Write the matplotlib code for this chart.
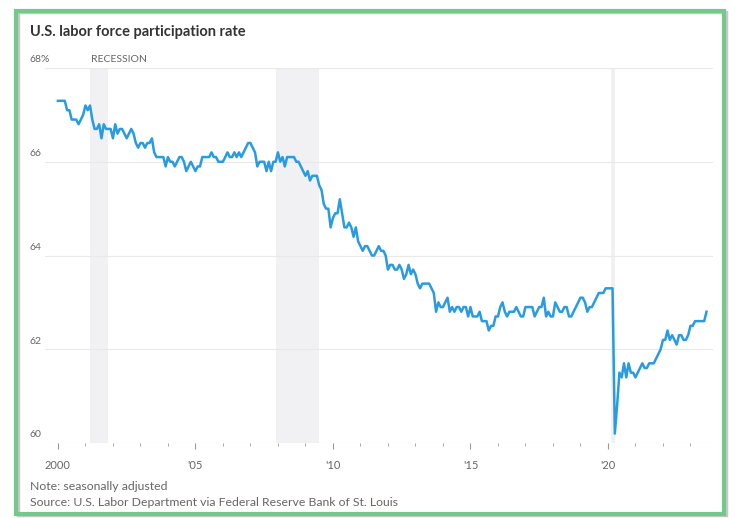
import numpy as np
import matplotlib
matplotlib.use("Agg")
import matplotlib.pyplot as plt
import matplotlib.transforms as mtransforms
from matplotlib.patches import Rectangle

# monthly participation rate, Jan 2000 .. Aug 2023
rate_2000 = [67.3, 67.3, 67.3, 67.3, 67.1, 67.1, 66.9, 66.9, 66.9, 66.8, 66.9, 67.0]
rate_2001 = [67.2, 67.1, 67.2, 66.9, 66.7, 66.7, 66.8, 66.5, 66.8, 66.7, 66.7, 66.7]
rate_2002 = [66.5, 66.8, 66.6, 66.7, 66.7, 66.6, 66.5, 66.6, 66.7, 66.6, 66.4, 66.3]
rate_2003 = [66.4, 66.4, 66.3, 66.4, 66.4, 66.5, 66.2, 66.1, 66.1, 66.1, 66.1, 65.9]
rate_2004 = [66.1, 66.0, 66.0, 65.9, 66.0, 66.1, 66.1, 66.0, 65.8, 65.9, 66.0, 65.9]
rate_2005 = [65.8, 65.9, 65.9, 66.1, 66.1, 66.1, 66.1, 66.2, 66.1, 66.1, 66.0, 66.0]
rate_2006 = [66.0, 66.1, 66.2, 66.1, 66.1, 66.2, 66.1, 66.2, 66.1, 66.2, 66.3, 66.4]
rate_2007 = [66.4, 66.3, 66.2, 65.9, 66.0, 66.0, 66.0, 65.8, 66.0, 65.8, 66.0, 66.0]
rate_2008 = [66.2, 66.0, 66.1, 65.9, 66.1, 66.1, 66.1, 66.1, 66.0, 66.0, 65.9, 65.8]
rate_2009 = [65.7, 65.8, 65.6, 65.7, 65.7, 65.7, 65.5, 65.4, 65.1, 65.0, 65.0, 64.6]
rate_2010 = [64.8, 64.9, 64.9, 65.2, 64.9, 64.6, 64.6, 64.7, 64.6, 64.4, 64.6, 64.3]
rate_2011 = [64.2, 64.1, 64.2, 64.2, 64.1, 64.0, 64.0, 64.1, 64.2, 64.1, 64.1, 64.0]
rate_2012 = [63.7, 63.8, 63.8, 63.7, 63.7, 63.8, 63.7, 63.5, 63.6, 63.8, 63.6, 63.7]
rate_2013 = [63.6, 63.4, 63.3, 63.4, 63.4, 63.4, 63.4, 63.3, 63.2, 62.8, 63.0, 62.9]
rate_2014 = [62.9, 63.0, 63.1, 62.8, 62.9, 62.8, 62.9, 62.9, 62.8, 62.9, 62.9, 62.7]
rate_2015 = [62.9, 62.7, 62.7, 62.7, 62.8, 62.6, 62.6, 62.6, 62.4, 62.5, 62.5, 62.7]
rate_2016 = [62.7, 62.9, 63.0, 62.8, 62.7, 62.8, 62.8, 62.8, 62.9, 62.8, 62.7, 62.7]
rate_2017 = [62.9, 62.9, 62.9, 62.9, 62.7, 62.8, 62.9, 62.9, 63.1, 62.7, 62.8, 62.7]
rate_2018 = [62.7, 63.0, 62.9, 62.8, 62.8, 62.9, 62.9, 62.7, 62.7, 62.8, 62.9, 63.0]
rate_2019 = [63.1, 63.1, 63.0, 62.8, 62.9, 62.9, 63.0, 63.1, 63.2, 63.2, 63.2, 63.3]
rate_2020 = [63.3, 63.3, 63.3, 60.2, 60.8, 61.5, 61.4, 61.7, 61.4, 61.7, 61.5, 61.5]
rate_2021 = [61.4, 61.5, 61.6, 61.7, 61.6, 61.6, 61.7, 61.7, 61.7, 61.8, 61.9, 62.0]
rate_2022 = [62.2, 62.2, 62.4, 62.2, 62.3, 62.2, 62.1, 62.3, 62.3, 62.2, 62.2, 62.3]
rate_2023 = [62.5, 62.5, 62.6, 62.6, 62.6, 62.6, 62.6, 62.8]

recessions = [(2001.17, 2001.83), (2007.92, 2009.5), (2020.1, 2020.25)]
y_ticks = [60, 62, 64, 66, 68]
y_labels = ["60", "62", "64", "66", "68%"]
x_ticks = [2000, 2005, 2010, 2015, 2020]
x_labels = ["2000", "'05", "'10", "'15", "'20"]

rate = (rate_2000 + rate_2001 + rate_2002 + rate_2003 + rate_2004 + rate_2005
        + rate_2006 + rate_2007 + rate_2008 + rate_2009 + rate_2010 + rate_2011
        + rate_2012 + rate_2013 + rate_2014 + rate_2015 + rate_2016 + rate_2017
        + rate_2018 + rate_2019 + rate_2020 + rate_2021 + rate_2022 + rate_2023)
t = 2000 + np.arange(len(rate)) / 12.0

fnt = ["Liberation Sans Narrow", "Lato", "DejaVu Sans"]
gray = "#666666"

fig = plt.figure(figsize=(7.38, 5.18), dpi=100)
ax = fig.add_axes([45 / 738, 75 / 518, 668 / 738, 375 / 518])

for a, b in recessions:
    ax.axvspan(a, b, color="#f1f1f3", lw=0, zorder=0)
for y in y_ticks:
    ax.axhline(y, color="#e9e9e9", lw=0.8, zorder=1)

ax.plot(t, rate, color="#2a9be0", lw=1.8, zorder=3)

ax.set_xlim(1999.53, 2023.82)
ax.set_ylim(60, 68)
for s in ax.spines.values():
    s.set_visible(False)
ax.set_yticks([])
ax.set_xticks(x_ticks)
ax.set_xticklabels(x_labels, color=gray, fontsize=8, family=fnt)
ax.set_xticks(np.arange(2001, 2024), minor=True)
ax.tick_params(axis="x", which="major", length=4, color="#999999", pad=8)
ax.tick_params(axis="x", which="minor", length=2, color="#999999")

tr = mtransforms.blended_transform_factory(fig.transFigure, ax.transData)
for y, lab in zip(y_ticks, y_labels):
    ax.text(30 / 738, y + 0.08, lab, transform=tr, ha="left", va="bottom",
            color=gray, fontsize=7.5, family=fnt)
ax.text(2001.2, 68.08, "RECESSION", ha="left", va="bottom", color=gray,
        fontsize=7.5, family=fnt)

fig.text(30 / 738, 1 - 32 / 518, "U.S. labor force participation rate",
         ha="left", va="center", fontsize=10.5, fontweight="bold",
         color="#333333", family=["Lato", "DejaVu Sans"])
fig.text(30 / 738, 1 - 487 / 518, "Note: seasonally adjusted", ha="left",
         va="center", fontsize=8.8, color=gray, family=fnt)
fig.text(30 / 738, 1 - 503 / 518,
         "Source: U.S. Labor Department via Federal Reserve Bank of St. Louis",
         ha="left", va="center", fontsize=8.8, color=gray, family=fnt)

# green frame of the screenshot
fig.patches.append(Rectangle((18 / 738, 3 / 518), 708 / 738, 503 / 518,
                             transform=fig.transFigure, fill=False,
                             edgecolor="#c9c9c9", lw=2.5, zorder=0))
fig.patches.append(Rectangle((16 / 738, 4 / 518), 708 / 738, 503 / 518,
                             transform=fig.transFigure, fill=False,
                             edgecolor="#74c98a", lw=3, zorder=1))

fig.savefig("out.png", dpi=100)
